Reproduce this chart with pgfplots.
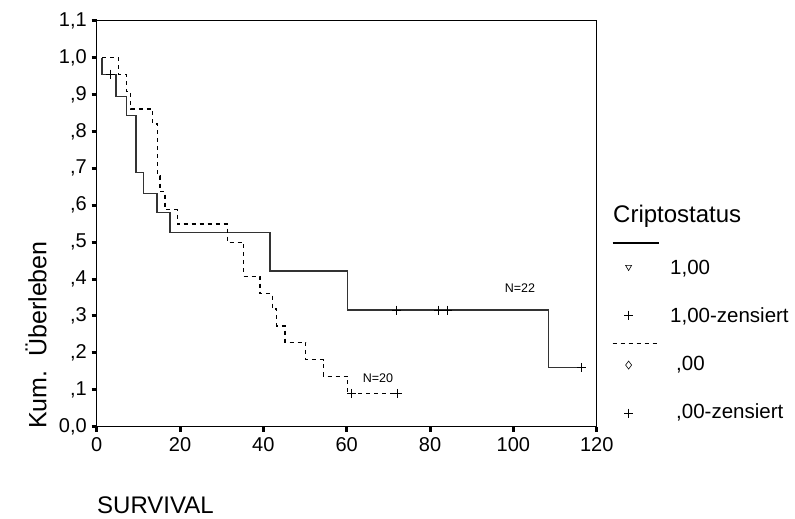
\documentclass[border=0pt]{standalone}
\usepackage{fontspec}
\setmainfont{Liberation Sans}
\usepackage{pgfplots}
\pgfplotsset{compat=1.18}

\begin{document}
\begin{tikzpicture}
\path[use as bounding box] (0,0) rectangle (795pt,519pt);

\begin{axis}[
  at={(96.7pt,92.3pt)}, anchor=south west,
  scale only axis,
  width=500pt, height=406pt,
  xmin=0, xmax=120, ymin=0, ymax=1.1,
  clip=false,
  axis line style={line width=1.2pt},
  tick pos=left,
  tick align=outside,
  major tick length=5pt,
  tick style={line width=3pt, black},
  xtick={0,20,40,60,80,100,120},
  xticklabels={0,20,40,60,80,100,120},
  ytick={0,0.1,0.2,0.3,0.4,0.5,0.6,0.7,0.8,0.9,1.0,1.1},
  yticklabels={{0,0},{,1},{,2},{,3},{,4},{,5},{,6},{,7},{,8},{,9},{1,0},{1,1}},
  xticklabel style={font=\fontsize{20}{24}\selectfont, inner sep=0pt, yshift=-6pt},
  yticklabel style={font=\fontsize{20}{24}\selectfont, inner sep=0pt, xshift=-4.7pt},
  legend style={
    at={(rel axis cs:1.0306,0.541)}, anchor=north west,
    draw=none, fill=none, inner sep=0pt, outer sep=0pt,
    row sep=0pt, column sep=11pt,
    font=\fontsize{20.5}{24}\selectfont,
    cells={anchor=west},
    nodes={inner sep=0pt, text height=19pt, text depth=5pt},
  },
  legend cell align=left,
]

% Criptostatus 1,00 (N=22)
\addplot[const plot, black!80, line width=1.3pt, forget plot] coordinates {
  (1.3,1.000) (1.3,0.955) (4.6,0.894) (7.2,0.843) (9.4,0.688) (11.2,0.632)
  (14.5,0.581) (17.6,0.527) (41.6,0.422) (60.2,0.316) (108.4,0.161) (116.4,0.161)
};
\addplot[only marks, mark=+, mark size=4.5pt, black, line width=0.9pt, forget plot] coordinates {
  (3.4,0.955) (72.0,0.316) (82.0,0.316) (84.2,0.316) (116.4,0.161)
};

% Criptostatus ,00 (N=20)
\addplot[const plot, black, line width=1.2pt, dash pattern=on 4pt off 4pt, forget plot] coordinates {
  (1.3,1.000) (5.2,0.954) (7.2,0.908) (8.2,0.861) (13.4,0.820) (14.6,0.679)
  (15.2,0.637) (16.4,0.589) (19.3,0.549) (31.3,0.500) (35.2,0.408) (39.2,0.360)
  (42.1,0.319) (43.2,0.273) (45.2,0.229) (50.2,0.181) (54.4,0.137) (60.2,0.090)
  (72.1,0.090)
};
\addplot[only marks, mark=+, mark size=4.5pt, black, line width=0.9pt, forget plot] coordinates {
  (61.2,0.090) (72.1,0.090)
};

\node[font=\fontsize{12.5}{14}\selectfont] at (axis cs:101.6,0.376) {N=22};
\node[font=\fontsize{12.5}{14}\selectfont] at (axis cs:67.5,0.132) {N=20};

% legend
\addlegendimage{legend image code/.code={}}
\addlegendentry{\hspace*{-57pt}\raisebox{4pt}{\fontsize{24}{28}\selectfont Criptostatus}}
\addlegendimage{legend image code/.code={\draw[black, line width=1.2pt] (0pt,0pt) -- (46pt,0pt);}}
\addlegendentry{\mbox{}}
\addlegendimage{legend image code/.code={\draw[black, line width=0.6pt] plot[mark=triangle, mark options={rotate=180}, mark size=3.5pt] coordinates {(16pt,0pt)};}}
\addlegendentry{1,00}
\addlegendimage{legend image code/.code={}}
\addlegendentry{\mbox{}}
\addlegendimage{legend image code/.code={\draw[black, line width=0.9pt] plot[mark=+, mark size=4.5pt] coordinates {(16pt,0pt)};}}
\addlegendentry{1,00-zensiert}
\addlegendimage{legend image code/.code={\draw[black, line width=1pt, dash pattern=on 4pt off 4pt] (0pt,-4pt) -- (46pt,-4pt);}}
\addlegendentry{\mbox{}}
\addlegendimage{legend image code/.code={\draw[black, line width=0.6pt] plot[mark=diamond, mark size=4pt] coordinates {(16pt,-2pt)};}}
\addlegendentry{\hspace*{6pt},00}
\addlegendimage{legend image code/.code={}}
\addlegendentry{\mbox{}}
\addlegendimage{legend image code/.code={\draw[black, line width=0.9pt] plot[mark=+, mark size=4.5pt] coordinates {(16pt,-2pt)};}}
\addlegendentry{\hspace*{6pt},00-zensiert}
\end{axis}

\node[rotate=90, font=\fontsize{25}{30}\selectfont, inner sep=0pt] at (36pt,184pt) {Kum.\hspace{0.55em}Überleben};
\node[anchor=west, font=\fontsize{24}{28}\selectfont, inner sep=0pt] at (97pt,14pt) {SURVIVAL};
\end{tikzpicture}
\end{document}
